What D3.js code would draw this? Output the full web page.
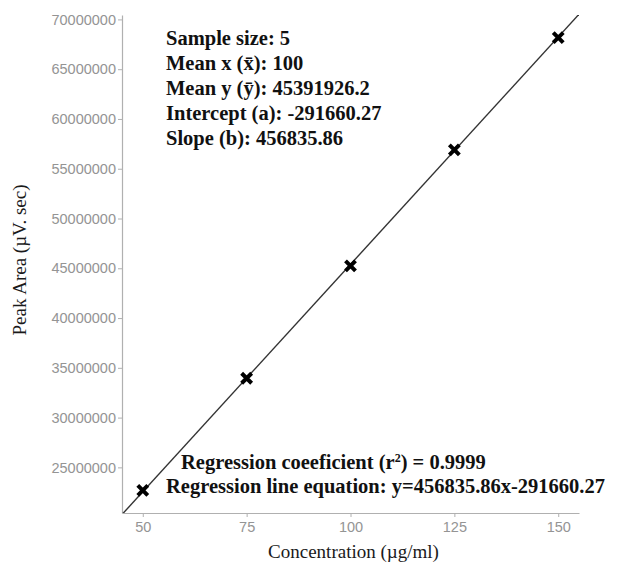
<!DOCTYPE html>
<html>
<head>
<meta charset="utf-8">
<script src="https://cdn.jsdelivr.net/npm/d3@7"></script>
<style>
  body { margin: 0; background: #fff; }
</style>
</head>
<body>
<div id="chart"></div>
<script>
const concentrations = [50, 75, 100, 125, 150];
const peakAreas = [22690000, 33950000, 45250000, 56900000, 68170000];
const slope = 456835.86;
const intercept = -291660.27;
const xTicks = [50, 75, 100, 125, 150];
const yTicks = [25000000, 30000000, 35000000, 40000000, 45000000, 50000000, 55000000, 60000000, 65000000, 70000000];
const statsLines = [
  "Sample size: 5",
  "Mean x (x\u0304): 100",
  "Mean y (y\u0304): 45391926.2",
  "Intercept (a): -291660.27",
  "Slope (b): 456835.86"
];

const width = 619, height = 564;
const margin = { top: 15, right: 40, bottom: 51, left: 122 };
const innerW = width - margin.left - margin.right;
const innerH = height - margin.top - margin.bottom;

const svg = d3.select("#chart").append("svg")
  .attr("width", width).attr("height", height);

const g = svg.append("g").attr("transform", `translate(${margin.left},${margin.top})`);

// ggplot-like 5% expansion
const xPad = (d3.max(concentrations) - d3.min(concentrations)) * 0.05;
const yPad = (d3.max(peakAreas) - d3.min(peakAreas)) * 0.05;
const x = d3.scaleLinear()
  .domain([d3.min(concentrations) - xPad, d3.max(concentrations) + xPad])
  .range([0, innerW]);
const y = d3.scaleLinear()
  .domain([d3.min(peakAreas) - yPad, d3.max(peakAreas) + yPad])
  .range([innerH, 0]);

const axisGrey = "#b0b0b0";
const labelGrey = "#949494";

const xAxis = g.append("g").attr("transform", `translate(0,${innerH})`)
  .call(d3.axisBottom(x).tickValues(xTicks).tickSize(4).tickSizeOuter(0).tickPadding(5));
const yAxis = g.append("g")
  .call(d3.axisLeft(y).tickValues(yTicks).tickSize(4).tickSizeOuter(0).tickPadding(2).tickFormat(d3.format("d")));

[xAxis, yAxis].forEach(a => {
  a.select(".domain").attr("stroke", axisGrey).attr("stroke-width", 1.2);
  a.selectAll(".tick line").attr("stroke", axisGrey);
  a.selectAll(".tick text")
    .attr("fill", labelGrey)
    .style("font-family", "'Liberation Sans', Arial, sans-serif")
    .style("font-size", "14.5px");
});

// regression line across the panel
g.append("clipPath").attr("id", "clip")
  .append("rect").attr("width", innerW).attr("height", innerH);

const x0 = x.domain()[0], x1 = x.domain()[1];
g.append("line")
  .attr("clip-path", "url(#clip)")
  .attr("x1", x(x0)).attr("y1", y(slope * x0 + intercept))
  .attr("x2", x(x1)).attr("y2", y(slope * x1 + intercept))
  .attr("stroke", "#333").attr("stroke-width", 1.4);

// points as bold crosses
const pts = concentrations.map((c, i) => ({ c, v: peakAreas[i] }));
const s = 5;
const marks = g.selectAll(".pt").data(pts).join("g")
  .attr("class", "pt")
  .attr("transform", d => `translate(${x(d.c)},${y(d.v)})`);
marks.append("path")
  .attr("d", `M${-s},${-s}L${s},${s}M${-s},${s}L${s},${-s}`)
  .attr("stroke", "#000").attr("stroke-width", 4).attr("stroke-linecap", "butt");

// annotations
const serif = "'Liberation Serif', 'Times New Roman', serif";
const stats = svg.append("text")
  .attr("x", 166).attr("y", 45)
  .style("font-family", serif).style("font-size", "20.5px").style("font-weight", "bold")
  .attr("fill", "#111");
statsLines.forEach((t, i) => {
  stats.append("tspan").attr("x", 166).attr("y", 45 + i * 25).text(t);
});

const reg1 = svg.append("text")
  .attr("x", 181).attr("y", 469)
  .style("font-family", serif).style("font-size", "20.5px").style("font-weight", "bold")
  .attr("fill", "#111");
reg1.append("tspan").text("Regression coeeficient (r");
reg1.append("tspan").attr("dy", -7).style("font-size", "12px").text("2");
reg1.append("tspan").attr("dy", 7).text(") = 0.9999");

svg.append("text")
  .attr("x", 166).attr("y", 493)
  .style("font-family", serif).style("font-size", "20.5px").style("font-weight", "bold")
  .attr("fill", "#111")
  .text("Regression line equation: y=456835.86x-291660.27");

// axis titles
svg.append("text")
  .attr("x", margin.left + innerW / 2 + 3).attr("y", 558)
  .attr("text-anchor", "middle")
  .style("font-family", serif).style("font-size", "19px")
  .attr("fill", "#1a1a1a")
  .text("Concentration (\u00b5g/ml)");

svg.append("text")
  .attr("transform", "rotate(-90)")
  .attr("x", -260).attr("y", 26)
  .attr("text-anchor", "middle")
  .style("font-family", serif).style("font-size", "19px")
  .attr("fill", "#1a1a1a")
  .text("Peak Area (\u00b5V. sec)");
</script>
</body>
</html>
